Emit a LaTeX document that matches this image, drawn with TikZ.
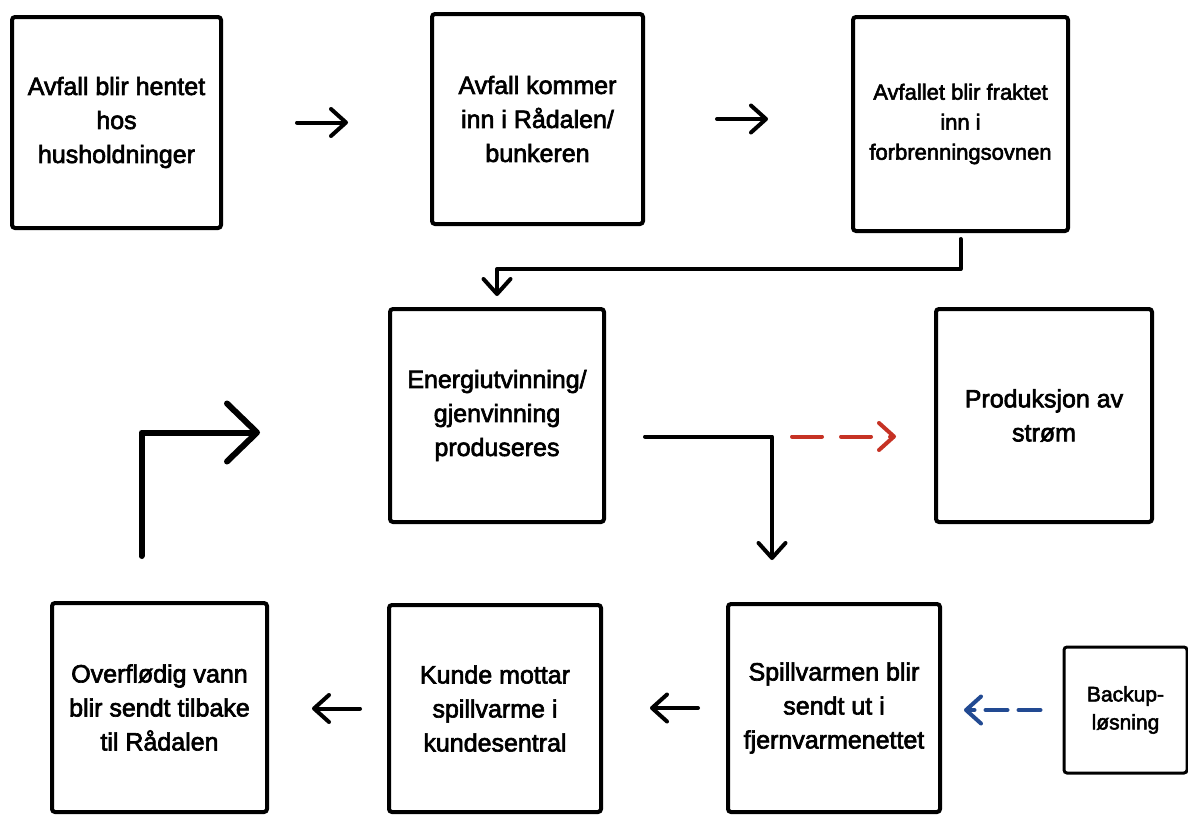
\documentclass[tikz,border=0pt]{standalone}
\usepackage{fontspec}
\setmainfont{Liberation Sans}[BoldFont=Liberation Sans, BoldFeatures={FakeBold=2.6}]
\usepackage{tikz}
\usetikzlibrary{arrows.meta,positioning}
\usepackage{xcolor}
\definecolor{flowred}{RGB}{198,50,36}
\definecolor{flowblue}{RGB}{34,74,146}
\tikzstyle{box} = [rectangle, rounded corners=3pt, draw=black, line width=4pt, minimum width=211pt, minimum height=210pt, align=center, font=\fontsize{25}{34}\selectfont\bfseries]
\tikzstyle{arrow} = [line width=4pt, line cap=round, line join=round, -{Straight Barb[length=15pt,width=27pt,round]}]
\tikzstyle{bigarrow} = [line width=6pt, line cap=round, line join=round, -{Straight Barb[length=30pt,width=58pt,round]}]

\begin{document}
\begin{tikzpicture}[x=1pt, y=-1pt]
\useasboundingbox (0,0) rectangle (1188,814);

% Top row
\node[box, minimum width=209pt, minimum height=211pt] (hentet) at (116.5,122.5) {Avfall blir hentet\\hos\\husholdninger};
\node[box] (bunker) at (537.5,119) {Avfall kommer\\inn i Rådalen/\\bunkeren};
\node[box, minimum width=215pt, minimum height=214pt, font=\fontsize{22}{30}\selectfont\bfseries] (ovn) at (960.5,124) {Avfallet blir fraktet\\inn i\\forbrenningsovnen};

% Middle row
\node[box, minimum width=214pt, minimum height=213pt] (energi) at (497,415.5) {Energiutvinning/\\gjenvinning\\produseres};
\node[box, minimum width=216pt, minimum height=213pt] (strom) at (1044,415.5) {Produksjon av\\strøm};

% Bottom row
\node[box, minimum width=215pt, minimum height=209pt] (overflod) at (159.5,707.5) {Overflødig vann\\blir sendt tilbake\\til Rådalen};
\node[box, minimum width=212pt, minimum height=207pt] (kunde) at (495,708.5) {Kunde mottar\\spillvarme i\\kundesentral};
\node[box, minimum width=212pt, minimum height=208pt] (spill) at (834,708) {Spillvarmen blir\\sendt ut i\\fjernvarmenettet};
\node[box, line width=3pt, minimum width=123pt, minimum height=126pt, font=\fontsize{21}{28}\selectfont\bfseries] (backup) at (1125.5,710) {Backup-\\løsning};

% Arrows
\draw[arrow, shorten <=74pt, shorten >=82pt] (hentet.east) -- (hentet.east -| bunker.west);
\draw[arrow, shorten <=72pt, shorten >=83pt] (bunker.east) -- (bunker.east -| ovn.west);
\draw[arrow, shorten <=6pt, shorten >=11pt] (ovn.south) -- ++(0,36) -| (energi.north);
\draw[arrow, shorten <=39pt, shorten >=42pt] ([yshift=-21pt]energi.east) -| ([xshift=-62pt]spill.north);
\draw[arrow, flowred, dash pattern=on 30pt off 19pt, shorten <=186pt, shorten >=38pt] ([yshift=-21pt]energi.east) -- ([yshift=-21pt]strom.west);
\draw[arrow, flowblue, dash pattern=on 22pt off 11pt, shorten <=22pt, shorten >=22pt] (backup.west) -- (backup.west -| spill.east);
\draw[arrow, shorten <=28pt, shorten >=47pt] (spill.west) -- (spill.west -| kunde.east);
\draw[arrow, shorten <=27pt, shorten >=43pt] (kunde.west) -- (kunde.west -| overflod.east);
\draw[bigarrow, shorten <=45pt, shorten >=128pt] ([xshift=-18pt]overflod.north) |- ([yshift=-17pt]energi.west);
\end{tikzpicture}
\end{document}
